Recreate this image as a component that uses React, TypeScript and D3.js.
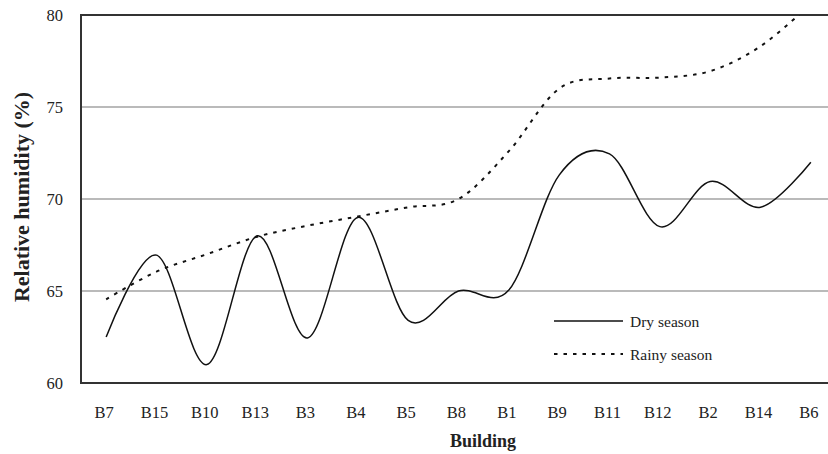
import React from "react";
import * as d3 from "d3";

const buildings = ["B7", "B15", "B10", "B13", "B3", "B4", "B5", "B8", "B1", "B9", "B11", "B12", "B2", "B14", "B6"];
const drySeason = [62.5, 66.95, 61.0, 68.0, 62.45, 69.0, 63.4, 65.0, 65.05, 71.3, 72.45, 68.5, 70.95, 69.55, 72.0];
const rainySeason = [64.55, 66.05, 67.0, 67.95, 68.55, 69.05, 69.55, 70.0, 72.6, 76.0, 76.55, 76.6, 76.95, 78.3, 80.6];
const yTicks = [60, 65, 70, 75, 80];
const gridTicks = [65, 70, 75];

const W = 828;
const H = 454;
const left = 81;
const top = 15;
const bottom = 383;
const right = 836;
const FONT = "'Liberation Serif', 'Times New Roman', serif";

export default function App() {
  const x = d3.scalePoint<string>().domain(buildings).range([left, right]).padding(0.5);
  const y = d3.scaleLinear().domain([60, 80]).range([bottom, top]);
  const line = d3
    .line<number>()
    .x((_, i) => x(buildings[i]) as number)
    .y((d) => y(d))
    .curve(d3.curveCardinal.tension(0));

  const legX0 = 554;
  const legX1 = 623;
  return (
    <svg
      width={W}
      height={H}
      style={{ position: "absolute", left: 0, top: 0, background: "#fff" }}
      fontFamily={FONT}
    >
      <defs>
        <clipPath id="plotClip">
          <rect x={left} y={top} width={W - left} height={bottom - top} />
        </clipPath>
      </defs>
      {gridTicks.map((t) => (
        <line key={t} x1={left} x2={W} y1={y(t)} y2={y(t)} stroke="#a3a3a3" strokeWidth={1.6} />
      ))}
      <line x1={left} x2={W} y1={y(80)} y2={y(80)} stroke="#333" strokeWidth={2} />
      <line x1={left} x2={W} y1={y(60)} y2={y(60)} stroke="#333" strokeWidth={2} />
      <line x1={left} x2={left} y1={top - 1} y2={bottom + 1} stroke="#333" strokeWidth={2} />

      <g clipPath="url(#plotClip)">
        <path d={line(drySeason) || ""} fill="none" stroke="#111" strokeWidth={1.5} />
        <path
          d={line(rainySeason) || ""}
          fill="none"
          stroke="#111"
          strokeWidth={2}
          strokeDasharray="3.5,6"
        />
      </g>

      {yTicks.map((t) => (
        <text key={t} x={63} y={y(t)} dy="0.35em" textAnchor="end" fontSize={16.5} fill="#222">
          {t}
        </text>
      ))}
      {buildings.map((b) => (
        <text key={b} x={(x(b) as number) - 2} y={418} textAnchor="middle" fontSize={16.5} fill="#222">
          {b}
        </text>
      ))}
      <text x={483} y={447} textAnchor="middle" fontSize={18} fontWeight="bold" fill="#222">
        Building
      </text>
      <text
        transform={`translate(29,197) rotate(-90)`}
        textAnchor="middle"
        fontSize={22}
        fontWeight="bold"
        fill="#222"
      >
        Relative humidity (%)
      </text>

      <line x1={legX0} x2={legX1} y1={321} y2={321} stroke="#111" strokeWidth={1.5} />
      <text x={630} y={326.5} fontSize={15.5} fill="#222">
        Dry season
      </text>
      <line
        x1={legX0}
        x2={legX1}
        y1={354}
        y2={354}
        stroke="#111"
        strokeWidth={2}
        strokeDasharray="3.5,6"
      />
      <text x={630} y={359.5} fontSize={15.5} fill="#222">
        Rainy season
      </text>
    </svg>
  );
}
